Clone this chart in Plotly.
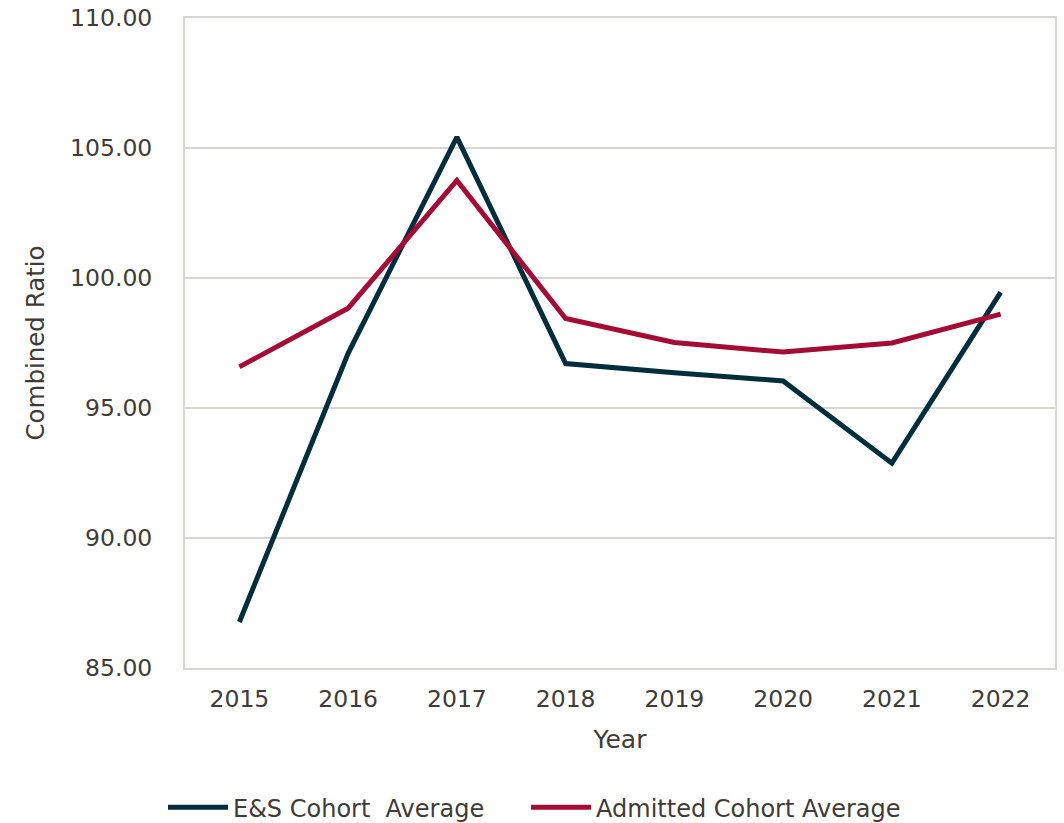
import plotly.graph_objects as go

years = ["2015", "2016", "2017", "2018", "2019", "2020", "2021", "2022"]
es_avg = [86.77, 97.1, 105.42, 96.71, 96.36, 96.04, 92.88, 99.45]
admitted_avg = [96.58, 98.84, 103.75, 98.44, 97.52, 97.15, 97.5, 98.61]
y_ticks = [85, 90, 95, 100, 105, 110]
y_tick_labels = ["85.00", "90.00", "95.00", "100.00", "105.00", "110.00"]

FONT = "DejaVu Sans, Verdana, sans-serif"
TXT = "#403b36"
GRID = "#d9d5d0"

fig = go.Figure()
fig.add_trace(go.Scatter(x=years, y=es_avg, mode="lines", name="E&S Cohort \u00a0Average",
                         line=dict(color="#022d3c", width=5), legend="legend"))
fig.add_trace(go.Scatter(x=years, y=admitted_avg, mode="lines", name="Admitted Cohort Average",
                         line=dict(color="#a50c35", width=5), legend="legend2"))

leg_common = dict(orientation="h", xanchor="left", y=-0.215, yanchor="middle",
                  font=dict(size=24, color=TXT), itemwidth=60, bgcolor="rgba(0,0,0,0)")

fig.update_layout(
    width=1064, height=823,
    margin=dict(l=185, r=9, t=18, b=155, autoexpand=False),
    paper_bgcolor="white", plot_bgcolor="white",
    font=dict(family=FONT, color=TXT, size=23.5),
    showlegend=True,
    legend=dict(x=-0.0253, **leg_common),
    legend2=dict(x=0.392, **leg_common),
    xaxis=dict(type="category", range=[-0.5, 7.5], showgrid=False, automargin=False,
               showline=True, linecolor=GRID, linewidth=2, mirror=True,
               ticks="", ticklabelstandoff=9, tickfont=dict(size=23.5, color=TXT),
               title=dict(text="Year", font=dict(size=25, color=TXT), standoff=18)),
    yaxis=dict(range=[85, 110], tickvals=y_ticks, ticktext=y_tick_labels, automargin=False,
               showgrid=True, gridcolor=GRID, gridwidth=2,
               showline=True, linecolor=GRID, linewidth=2, mirror=True,
               zeroline=False, ticks="", ticklabelstandoff=26,
               tickfont=dict(size=23.5, color=TXT),
               title=dict(text="Combined Ratio", font=dict(size=24.5, color=TXT), standoff=18)),
)

fig.write_html("out.html", config={"displayModeBar": False},
               post_script="document.body.style.margin='0';")
